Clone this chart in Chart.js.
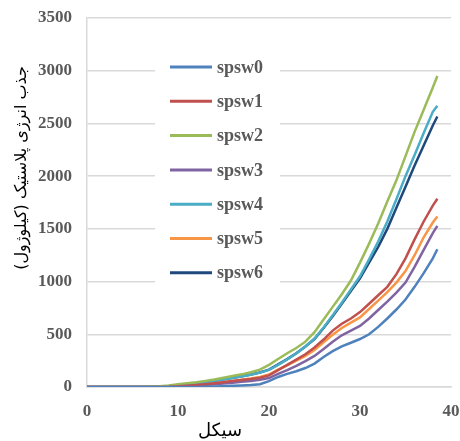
<!DOCTYPE html>
<html>
<head>
<meta charset="utf-8">
<script src="https://cdn.jsdelivr.net/npm/chart.js@4.4.0/dist/chart.umd.min.js"></script>
<style>
  html, body { margin: 0; padding: 0; background: #fff; }
  #wrap { width: 460px; height: 441px; }
</style>
</head>
<body>
<div id="wrap"><canvas id="chart" width="460" height="441"></canvas></div>
<script>
// cycle number (x) for every series
const cycles = [0, 1, 2, 3, 4, 5, 6, 7, 8, 9, 10, 11, 12, 13, 14, 15, 16, 17, 18, 19,
  20, 21, 22, 23, 24, 25, 26, 27, 28, 29, 30, 31, 32, 33, 34, 35, 36, 37, 38, 38.5];

// plastic energy absorbed (kJ)
const spsw0 = [0, 0, 0, 0, 0, 0, 0, 0, 0, 0, 0, 0, 0, 2, 5, 8, 11, 14, 18, 26,
  55, 95, 125, 150, 180, 222, 285, 340, 385, 420, 455, 500, 570, 650, 735, 830, 950, 1080, 1220, 1307];
const spsw1 = [0, 0, 0, 0, 0, 0, 0, 0, 0, 2, 6, 12, 18, 26, 35, 45, 56, 66, 76, 88,
  110, 160, 210, 260, 310, 375, 450, 535, 600, 650, 710, 790, 870, 950, 1070, 1220, 1400, 1570, 1720, 1785];
const spsw2 = [0, 0, 0, 0, 0, 0, 0, 2, 8, 15, 25, 35, 45, 58, 72, 88, 105, 120, 140, 165,
  210, 265, 320, 370, 430, 520, 640, 760, 880, 1010, 1180, 1360, 1550, 1760, 1960, 2190, 2420, 2630, 2840, 2950];
const spsw3 = [0, 0, 0, 0, 0, 0, 0, 0, 0, 0, 3, 7, 12, 18, 25, 33, 41, 50, 58, 68,
  85, 125, 160, 200, 245, 295, 360, 430, 490, 535, 580, 650, 730, 810, 895, 990, 1140, 1300, 1460, 1528];
const spsw4 = [0, 0, 0, 0, 0, 0, 0, 1, 4, 9, 16, 25, 35, 46, 58, 72, 86, 100, 116, 136,
  162, 210, 262, 318, 385, 460, 565, 680, 800, 925, 1050, 1210, 1380, 1570, 1780, 2000, 2200, 2410, 2610, 2668];
const spsw5 = [0, 0, 0, 0, 0, 0, 0, 0, 0, 2, 6, 12, 19, 27, 36, 47, 57, 68, 80, 95,
  118, 165, 205, 250, 295, 350, 425, 495, 560, 610, 660, 740, 820, 900, 990, 1100, 1250, 1420, 1560, 1617];
const spsw6 = [0, 0, 0, 0, 0, 0, 0, 1, 5, 10, 18, 27, 37, 48, 60, 74, 88, 102, 118, 138,
  165, 215, 265, 320, 385, 455, 560, 670, 790, 910, 1030, 1180, 1330, 1500, 1700, 1900, 2100, 2290, 2480, 2566];

const seriesNames = ['spsw0', 'spsw1', 'spsw2', 'spsw3', 'spsw4', 'spsw5', 'spsw6'];
const seriesValues = [spsw0, spsw1, spsw2, spsw3, spsw4, spsw5, spsw6];
const seriesColors = ['#4F81BD', '#C0504D', '#9BBB59', '#8064A2', '#4BACC6', '#F79646', '#1F497D'];

const xTitle = 'سیکل';
const yTitle = 'جذب انرژی پلاستیک (کیلوژول)';

const tickFont = { family: 'Liberation Serif', size: 17, weight: 'bold' };
const tickColor = '#595959';

// legend drawn inside the plot, like the original
const insideLegend = {
  id: 'insideLegend',
  afterDatasetsDraw(chart) {
    const { ctx, chartArea } = chart;
    const x0 = chartArea.left + 68;
    const y0 = chartArea.top + 32;
    ctx.save();
    ctx.fillStyle = '#fff';
    ctx.fillRect(x0, y0, 125, 240);
    ctx.font = 'bold 18px "Liberation Serif"';
    ctx.textBaseline = 'middle';
    chart.data.datasets.forEach((ds, i) => {
      const y = y0 + 17 + i * 34.3;
      ctx.strokeStyle = ds.borderColor;
      ctx.lineWidth = 3;
      ctx.beginPath();
      ctx.moveTo(x0 + 15, y);
      ctx.lineTo(x0 + 57, y);
      ctx.stroke();
      ctx.fillStyle = tickColor;
      ctx.fillText(ds.label, x0 + 62, y + 1);
    });
    ctx.restore();
  }
};

// axis titles sit off-centre in the original, so place them by hand
const axisTitles = {
  id: 'axisTitles',
  afterDraw(chart) {
    const { ctx } = chart;
    ctx.save();
    ctx.fillStyle = '#000';
    ctx.font = '18px "DejaVu Sans"';
    ctx.textAlign = 'center';
    ctx.textBaseline = 'middle';
    ctx.fillText(xTitle, 220, 431);
    ctx.translate(22, 168);
    ctx.rotate(-Math.PI / 2);
    ctx.font = '16px "DejaVu Sans"';
    ctx.fillText(yTitle, 0, 0);
    ctx.restore();
  }
};

new Chart(document.getElementById('chart'), {
  type: 'line',
  data: {
    datasets: seriesNames.map((name, i) => ({
      label: name,
      data: cycles.map((c, j) => ({ x: c, y: seriesValues[i][j] })),
      borderColor: seriesColors[i],
      backgroundColor: seriesColors[i],
      borderWidth: 2.5,
      pointRadius: 0,
      tension: 0,
    })),
  },
  options: {
    responsive: false,
    animation: false,
    layout: { padding: { top: 18, right: 9, left: 0, bottom: 0 } },
    plugins: {
      legend: { display: false },
      tooltip: { enabled: false },
    },
    scales: {
      x: {
        type: 'linear',
        min: 0,
        max: 40,
        ticks: { stepSize: 10, color: tickColor, font: tickFont, padding: 14, callback: v => String(v) },
        grid: { display: false, drawTicks: false },
        border: { color: '#d9d9d9', width: 1.5 },
        afterFit: s => { s.height = 54; s.paddingLeft = 0; s.paddingRight = 0; },
      },
      y: {
        min: 0,
        max: 3500,
        ticks: { stepSize: 500, color: tickColor, font: tickFont, padding: 15, callback: v => String(v) },
        grid: { color: '#d9d9d9', lineWidth: 1.5, drawTicks: false },
        border: { color: '#d9d9d9', width: 1.5 },
        afterFit: s => { s.width = 87; s.paddingTop = 0; s.paddingBottom = 0; },
      },
    },
  },
  plugins: [insideLegend, axisTitles],
});
</script>
</body>
</html>
